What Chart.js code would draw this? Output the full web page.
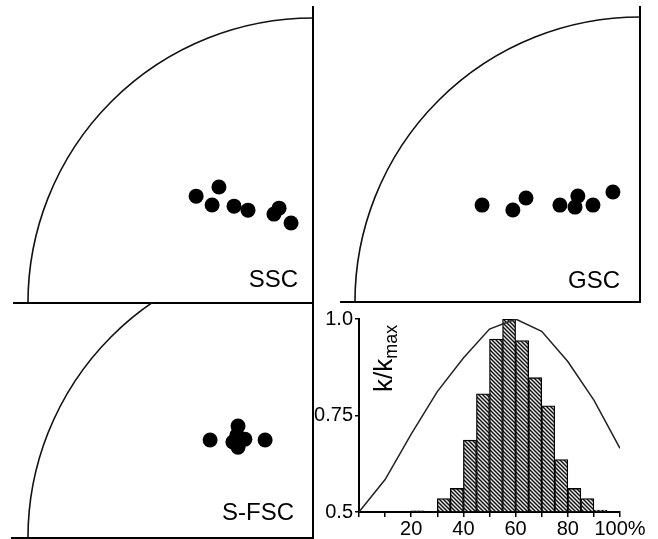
<!DOCTYPE html>
<html>
<head>
<meta charset="utf-8">
<script src="https://cdn.jsdelivr.net/npm/chart.js@4.4.0/dist/chart.umd.min.js"></script>
<style>
    body { margin: 0; background: #fff; }
    #wrap { position: relative; width: 658px; height: 539px; }
    #wrap canvas { position: absolute; left: 0; top: 0; }
</style>
</head>
<body>
<div id="wrap">
    <canvas id="ssc" width="658" height="539"></canvas>
    <canvas id="gsc" width="658" height="539"></canvas>
    <canvas id="sfsc" width="658" height="539"></canvas>
    <canvas id="hist" width="658" height="539"></canvas>
</div>
<script>
// quarter-circle panels, units: arc radius = 100, centre in the lower right corner
const arcRadius = 100;

const sscX = [-41, -33, -35.4, -27.7, -22.8, -11.9, -13.7, -7.7];
const sscY = [37.5, 40.7, 34.4, 34, 32.6, 33.3, 31.2, 28.1];

const gscX = [-55.4, -44.6, -40, -28.1, -21.8, -22.8, -16.5, -9.5];
const gscY = [34, 32.3, 36.5, 34, 37.2, 33.3, 34, 38.6];

const sfscX = [-36.1, -26.3, -28.1, -26.3, -23.9, -16.8, -26.7];
const sfscY = [34.4, 39.3, 33.7, 31.9, 34.7, 34.4, 36.1];

// histogram: bins of 5 %
const binStart = [20, 30, 35, 40, 45, 50, 55, 60, 65, 70, 75, 80, 85, 90];
const binHeight = [0.503, 0.535, 0.561, 0.686, 0.806, 0.948, 1.0, 0.944, 0.848, 0.775, 0.636, 0.561, 0.535, 0.505];
const binWidth = 5;

// k/kmax curve
const curveX = [0, 10, 20, 30, 40, 50, 60, 70, 80, 90, 100];
const curveY = [0.5, 0.584, 0.702, 0.812, 0.899, 0.974, 1.0, 0.968, 0.89, 0.79, 0.665];

const xTickLabels = {20: '20', 40: '40', 60: '60', 80: '80', 100: '100%'};
const yTickLabels = {0.5: '0.5', 0.75: '0.75', 1: '1.0'};

const font = '"Liberation Sans", Arial, sans-serif';

// arc + panel name
const quarterArc = {
    id: 'quarterArc',
    beforeDatasetsDraw(chart, args, opts) {
        const {ctx, chartArea: a, scales: {x, y}} = chart;
        const cx = x.getPixelForValue(0);
        const cy = y.getPixelForValue(0);
        const r = cx - x.getPixelForValue(-arcRadius);
        ctx.save();
        ctx.beginPath();
        ctx.rect(a.left, a.top - 1, a.width + 2, a.height + 1);
        ctx.clip();
        ctx.beginPath();
        ctx.arc(cx, cy, r, Math.PI, 1.5 * Math.PI);
        ctx.lineWidth = 1.6;
        ctx.strokeStyle = '#111';
        ctx.stroke();
        ctx.restore();

        ctx.save();
        ctx.font = '24px ' + font;
        ctx.fillStyle = '#000';
        ctx.textAlign = 'right';
        ctx.textBaseline = 'alphabetic';
        ctx.fillText(opts.name, a.right - opts.dx, a.bottom - opts.dy);
        ctx.restore();
    }
};

function quarterPanel(id, xs, ys, name, xMin, yMax, pad, dx, dy) {
    return new Chart(document.getElementById(id), {
        type: 'scatter',
        data: {
            datasets: [{
                data: xs.map((v, i) => ({x: v, y: ys[i]})),
                backgroundColor: '#000',
                borderWidth: 0,
                pointRadius: 7.5,
                pointHoverRadius: 7.5
            }]
        },
        options: {
            responsive: false,
            animation: false,
            events: [],
            layout: {padding: pad, autoPadding: false},
            plugins: {
                legend: {display: false},
                tooltip: {enabled: false},
                quarterArc: {name: name, dx: dx, dy: dy}
            },
            scales: {
                x: {
                    type: 'linear', position: 'bottom', min: xMin, max: 0,
                    ticks: {display: false}, grid: {display: false, drawTicks: false},
                    border: {display: true, color: '#000', width: 2}
                },
                y: {
                    type: 'linear', position: 'right', min: 0, max: yMax,
                    ticks: {display: false}, grid: {display: false, drawTicks: false},
                    border: {display: true, color: '#000', width: 2}
                }
            }
        },
        plugins: [quarterArc]
    });
}

quarterPanel('ssc', sscX, sscY, 'SSC', -104.9, 103.9, {left: 14, top: 7, right: 345, bottom: 236}, 15, 16);
quarterPanel('gsc', gscX, gscY, 'GSC', -104.9, 103.5, {left: 341, top: 7, right: 18, bottom: 237}, 20, 14);
quarterPanel('sfsc', sfscX, sfscY, 'S-FSC', -105.6, 82.5, {left: 12, top: 303, right: 345, bottom: 1}, 19, 18);

// hatched fill for the bars
function hatch() {
    const c = document.createElement('canvas');
    c.width = 4; c.height = 4;
    const g = c.getContext('2d');
    g.fillStyle = '#e8e8e8';
    g.fillRect(0, 0, 4, 4);
    g.strokeStyle = '#111';
    g.lineWidth = 1.4;
    g.beginPath();
    g.moveTo(-1, -1); g.lineTo(5, 5);
    g.moveTo(-1, 3); g.lineTo(1, 5);
    g.moveTo(3, -1); g.lineTo(5, 1);
    g.stroke();
    return g.createPattern(c, 'repeat');
}

const yLabel = {
    id: 'yLabel',
    afterDatasetsDraw(chart) {
        const {ctx} = chart;
        ctx.save();
        ctx.translate(392, 392);
        ctx.rotate(-Math.PI / 2);
        ctx.fillStyle = '#000';
        ctx.textAlign = 'left';
        ctx.textBaseline = 'alphabetic';
        ctx.font = '26px ' + font;
        ctx.fillText('k/k', 0, 0);
        const w = ctx.measureText('k/k').width;
        ctx.font = '18px ' + font;
        ctx.fillText('max', w, 5);
        ctx.restore();
    }
};

new Chart(document.getElementById('hist'), {
    type: 'bar',
    data: {
        datasets: [{
            type: 'line',
            data: curveX.map((v, i) => ({x: v, y: curveY[i]})),
            borderColor: '#222',
            borderWidth: 1.5,
            pointRadius: 0,
            tension: 0,
            fill: false
        }, {
            type: 'bar',
            data: binStart.map((v, i) => ({x: v + binWidth / 2, y: binHeight[i]})),
            base: 0.5,
            backgroundColor: hatch(),
            borderColor: '#000',
            borderWidth: 1.3,
            barPercentage: 1,
            categoryPercentage: 1
        }]
    },
    options: {
        responsive: false,
        animation: false,
        events: [],
        layout: {padding: {left: 309, top: 319, right: 38, bottom: 0}, autoPadding: false},
        plugins: {legend: {display: false}, tooltip: {enabled: false}},
        scales: {
            x: {
                type: 'linear', min: 0, max: 100, offset: false,
                afterFit: s => { s.height = 27; },
                grid: {display: true, offset: false, drawOnChartArea: false, drawTicks: true, tickLength: 5, color: '#000', lineWidth: 1.5},
                border: {display: true, color: '#000', width: 2},
                ticks: {
                    stepSize: 10, autoSkip: false, maxRotation: 0, padding: 0,
                    color: '#000', font: {size: 20, family: font},
                    callback: v => xTickLabels[v] || ''
                }
            },
            y: {
                type: 'linear', min: 0.5, max: 1.0, beginAtZero: false,
                afterFit: s => { s.width = 50; },
                grid: {display: true, drawOnChartArea: false, drawTicks: true, tickLength: 4, color: '#000', lineWidth: 1.5},
                border: {display: true, color: '#000', width: 2},
                ticks: {
                    stepSize: 0.25, padding: 2,
                    color: '#000', font: {size: 20, family: font},
                    callback: v => yTickLabels[v] || ''
                }
            }
        }
    },
    plugins: [yLabel]
});
</script>
</body>
</html>
